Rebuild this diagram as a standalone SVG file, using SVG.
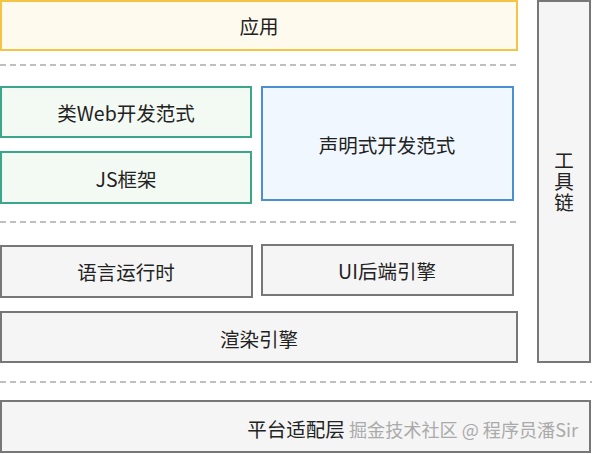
<svg xmlns="http://www.w3.org/2000/svg" width="592" height="454" viewBox="0 0 592 454">
<style>
text{font-family:"Noto Sans CJK SC","Noto Sans",sans-serif;font-size:19.5px;fill:#222;text-anchor:middle;dominant-baseline:central}
.gray rect{fill:#f5f5f5;stroke:#777;stroke-width:2}
.dash{stroke:#aaa;stroke-width:1.5;stroke-dasharray:6 4;fill:none}
.wm{fill:#aaa;text-anchor:start;font-size:18px}
.vt{writing-mode:vertical-rl;letter-spacing:1.5px}
</style>
<rect width="592" height="454" fill="#fff"/>
<g id="app"><rect x="1" y="1" width="516" height="49" fill="#fffaee" stroke="#f6c444" stroke-width="2"/><text x="259" y="25">应用</text></g>
<g id="separators">
<line class="dash" x1="0" y1="65" x2="518" y2="65"/>
<line class="dash" x1="0" y1="222" x2="518" y2="222"/>
<line class="dash" x1="0" y1="382" x2="592" y2="382"/>
</g>
<g id="webparadigm"><rect x="1" y="87" width="250" height="50" fill="#f3f9f3" stroke="#3aa68a" stroke-width="2"/><text x="126" y="112">类Web开发范式</text></g>
<g id="jsframework"><rect x="1" y="152" width="250" height="51" fill="#f3f9f3" stroke="#3aa68a" stroke-width="2"/><text x="126" y="178">JS框架</text></g>
<g id="declarative"><rect x="262" y="87" width="251" height="113" fill="#f0f7fe" stroke="#4a8fd4" stroke-width="2"/><text x="387" y="144">声明式开发范式</text></g>
<g id="toolchain" class="gray"><rect x="538" y="1" width="52" height="361"/><text class="vt" x="564" y="182">工具链</text></g>
<g id="runtime" class="gray"><rect x="1" y="246" width="251" height="51"/><text x="126" y="271">语言运行时</text></g>
<g id="uibackend" class="gray"><rect x="262" y="245" width="251" height="50"/><text x="387" y="270">UI后端引擎</text></g>
<g id="render" class="gray"><rect x="1" y="312" width="516" height="50"/><text x="259" y="338">渲染引擎</text></g>
<g id="platform" class="gray"><rect x="1" y="401" width="589" height="51"/><text x="296" y="428">平台适配层</text></g>
<g id="connectors"></g>
<text class="wm" x="349" y="429" textLength="229" lengthAdjust="spacingAndGlyphs">掘金技术社区 @ 程序员潘Sir</text>
</svg>
